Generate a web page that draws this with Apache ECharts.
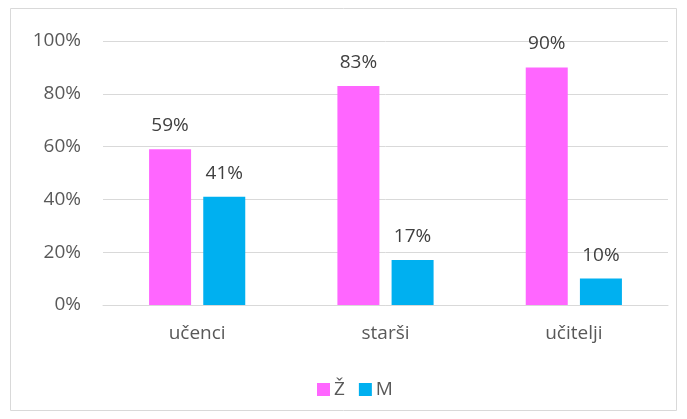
<!DOCTYPE html>
<html><head><meta charset="utf-8">
<script src="https://cdn.jsdelivr.net/npm/echarts@6/dist/echarts.min.js"></script>
<style>html,body{margin:0;padding:0;background:#fff}#c{width:687px;height:419px}</style>
</head><body><div id="c"></div>
<script>
var categories = ['učenci', 'starši', 'učitelji'];
var seriesNames = ['Ž', 'M'];
var zValues = [59, 83, 90];
var mValues = [41, 17, 10];
var yTicks = [0, 20, 40, 60, 80, 100];

var chart = echarts.init(document.getElementById('c'));
var font = '"Open Sans", "Liberation Sans", sans-serif';
var lbl = {show: true, position: 'top', distance: 14, formatter: '{c}%', color: '#404040', fontSize: 19, fontFamily: font};
chart.setOption({
  animation: false,
  graphic: [{type: 'rect', shape: {x: 10.5, y: 8.5, width: 666, height: 402}, style: {fill: 'none', stroke: '#d9d9d9', lineWidth: 1}}],
  grid: {left: 103, right: 19, top: 41, bottom: 114},
  legend: {data: seriesNames, top: 375, left: 312, itemWidth: 13, itemHeight: 13, itemGap: 14,
    icon: 'rect', textStyle: {color: '#595959', fontSize: 19, fontFamily: font, padding: [0, 0, 0, -1]}},
  xAxis: {type: 'category', data: categories,
    axisLine: {lineStyle: {color: '#d9d9d9'}}, axisTick: {show: false},
    axisLabel: {color: '#595959', fontSize: 19, fontFamily: font, margin: 19}},
  yAxis: {type: 'value', min: yTicks[0], max: yTicks[yTicks.length - 1], interval: 20,
    axisLine: {show: false}, axisTick: {show: false},
    splitLine: {lineStyle: {color: '#d9d9d9', width: 1}},
    axisLabel: {formatter: '{value}%', color: '#595959', fontSize: 19, fontFamily: font, margin: 22}},
  series: [
    {name: seriesNames[0], type: 'bar', data: zValues, barWidth: 42, barGap: '29%', itemStyle: {color: '#FF66FF'}, label: lbl},
    {name: seriesNames[1], type: 'bar', data: mValues, barWidth: 42, itemStyle: {color: '#00B0F0'}, label: lbl}
  ]
});
</script></body></html>
